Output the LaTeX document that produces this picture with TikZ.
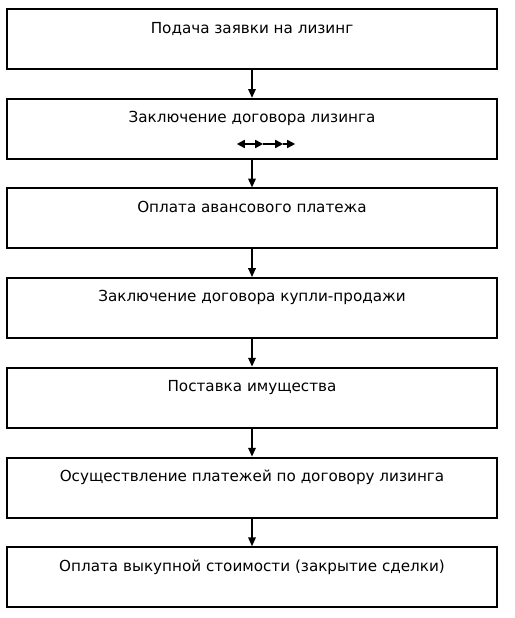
\documentclass[tikz,border=0pt]{standalone}
\usepackage{fontspec}
\setmainfont{DejaVu Sans}
\usetikzlibrary{arrows.meta}

\begin{document}
\begin{tikzpicture}[
  etap/.style={draw,line width=1.4pt,minimum width=12.25cm,minimum height=1.5cm,
    inner sep=0pt,text height=0.6cm,text depth=0.9cm,font=\fontsize{10.8}{12}\selectfont},
  fl/.style={line width=1pt,-{Triangle[length=0.22cm,width=0.19cm]}},
  tri/.tip={Triangle[length=0.2cm,width=0.2cm]}]
\useasboundingbox (0,0) rectangle (12.85,15.45);
\path
  coordinate (pos1) at (6.3,14.47)
  coordinate (pos2) at (6.3,12.23)
  coordinate (pos3) at (6.3,9.99)
  coordinate (pos4) at (6.3,7.75)
  coordinate (pos5) at (6.3,5.51)
  coordinate (pos6) at (6.3,3.26)
  coordinate (pos7) at (6.3,1.02)
  coordinate (sym0) at (5.92,11.85)
  coordinate (sym1) at (6.58,11.85)
  coordinate (sym2) at (7.08,11.85)
  coordinate (sym3) at (7.38,11.85)
  ;
\node[etap] (e1) at (pos1) {Подача заявки на лизинг};
\node[etap] (e2) at (pos2) {Заключение договора лизинга};
\node[etap] (e3) at (pos3) {Оплата авансового платежа};
\node[etap] (e4) at (pos4) {Заключение договора купли-продажи};
\node[etap] (e5) at (pos5) {Поставка имущества};
\node[etap] (e6) at (pos6) {Осуществление платежей по договору лизинга};
\node[etap] (e7) at (pos7) {Оплата выкупной стоимости (закрытие сделки)};
\draw[fl] (e1) -- (e2);
\draw[fl] (e2) -- (e3);
\draw[fl] (e3) -- (e4);
\draw[fl] (e4) -- (e5);
\draw[fl] (e5) -- (e6);
\draw[fl] (e6) -- (e7);
\draw[line width=1.1pt,tri-tri] (sym0) -- (sym1);
\draw[line width=1.1pt,-tri] (sym1) -- (sym2);
\draw[line width=1.1pt,-tri] (sym2) -- (sym3);
\end{tikzpicture}
\end{document}
